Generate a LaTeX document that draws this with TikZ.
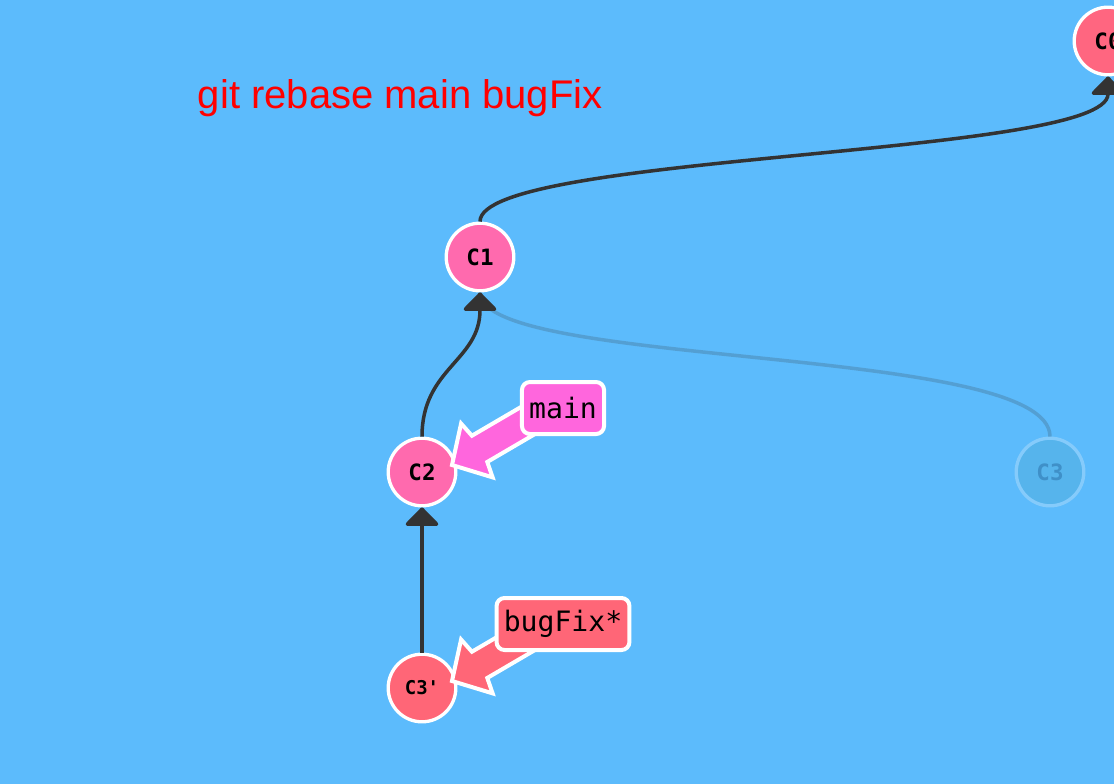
\documentclass[tikz,border=0pt]{standalone}
\usepackage{fontspec}
\setmainfont{Liberation Sans}
\setmonofont{DejaVu Sans Mono}
\usetikzlibrary{arrows.meta,calc}
\definecolor{bgblue}{HTML}{5CBBFC}
\definecolor{edgegray}{HTML}{333333}
\definecolor{commitpink}{HTML}{FF6AAE}
\definecolor{commitred}{HTML}{FF6680}
\definecolor{mainpink}{HTML}{FF66DD}
\definecolor{fixred}{HTML}{FF6677}
\definecolor{oldfill}{HTML}{56B4EC}
\definecolor{oldline}{HTML}{85CBFB}
\definecolor{oldtext}{HTML}{3F90C8}

\begin{document}
\begin{tikzpicture}[
  commit/.style={circle, draw=white, line width=2.35pt, minimum size=1.69cm,
    inner sep=0pt, font=\fontsize{16}{19}\selectfont\ttfamily\bfseries},
  edge/.style={draw=edgegray, line width=2.5pt,
    -{Triangle[width=0.92cm,length=0.48cm,round]}},
  oldedge/.style={draw=edgegray, line width=2.5pt, opacity=0.2},
  branch/.style={draw=white, line width=0.1cm, rounded corners=0.2cm,
    minimum height=1.3cm, inner xsep=0.18cm,
    font=\fontsize{20}{24}\selectfont\ttfamily},
  pointer/.style={draw=white, line width=0.1cm, line join=miter}]
  \path[use as bounding box, clip] (0,0) rectangle (27.85,-19.6);
  \fill[bgblue] (0,0) rectangle (27.85,-19.6);

  \node[font=\fontsize{28.45}{34}\selectfont, text=red, anchor=base west]
    (title) at (4.825,-2.7) {git rebase main bugFix};

  % commits
  \node[commit, fill=commitred] (c0) at (27.7,-1.025) {C0};
  \node[commit, fill=commitpink] (c1) at (12,-6.425) {C1};
  \node[commit, fill=commitpink] (c2) at (10.55,-11.8) {C2};
  \node[commit, fill=fixred, font=\fontsize{13.5}{16}\selectfont\ttfamily\bfseries]
    (c3p) at (10.55,-17.2) {C3'};
  \node[commit, fill=oldfill, draw=oldline, text=oldtext] (c3) at (26.25,-11.8) {C3};

  % parents
  \draw[oldedge] (c3) .. controls +(0,3.2) and +(0,-2.8) .. (c1);
  \draw[edge] (c1) .. controls +(0,2.6) and +(0,-2.9) .. (c0);
  \draw[edge] (c2) .. controls +(0,2.6) and +(0,-2.6) .. (c1);
  \draw[edge] (c3p) -- (c2);

  % branch pointers
  \coordinate (mainAt) at (14.075,-10.2);
  \coordinate (bugFixAt) at (14.075,-15.6);
  \foreach \b/\c/\col in {mainAt/c2/mainpink, bugFixAt/c3p/fixred} {
    \coordinate (tip) at ([shift={(0.75,0.175)}]\c.center);
    \coordinate (from) at ([shift={(0,0.2)}]\b);
    \coordinate (hb) at ($(tip)!0.72cm!(from)$);
    \coordinate (sb) at ($(tip)!0.8cm!(from)$);
    \draw[pointer, fill=\col] (tip) -- ($(hb)!0.78cm!90:(tip)$)
      -- ($(sb)!0.38cm!90:(tip)$) -- ($(from)!0.38cm!90:(tip)$)
      -- ($(from)!0.38cm!-90:(tip)$) -- ($(sb)!0.38cm!-90:(tip)$)
      -- ($(hb)!0.78cm!-90:(tip)$) -- cycle;
  }
  \node[branch, fill=mainpink] (main) at (mainAt) {main};
  \node[branch, fill=fixred] (bugFix) at (bugFixAt) {bugFix*};
\end{tikzpicture}
\end{document}
